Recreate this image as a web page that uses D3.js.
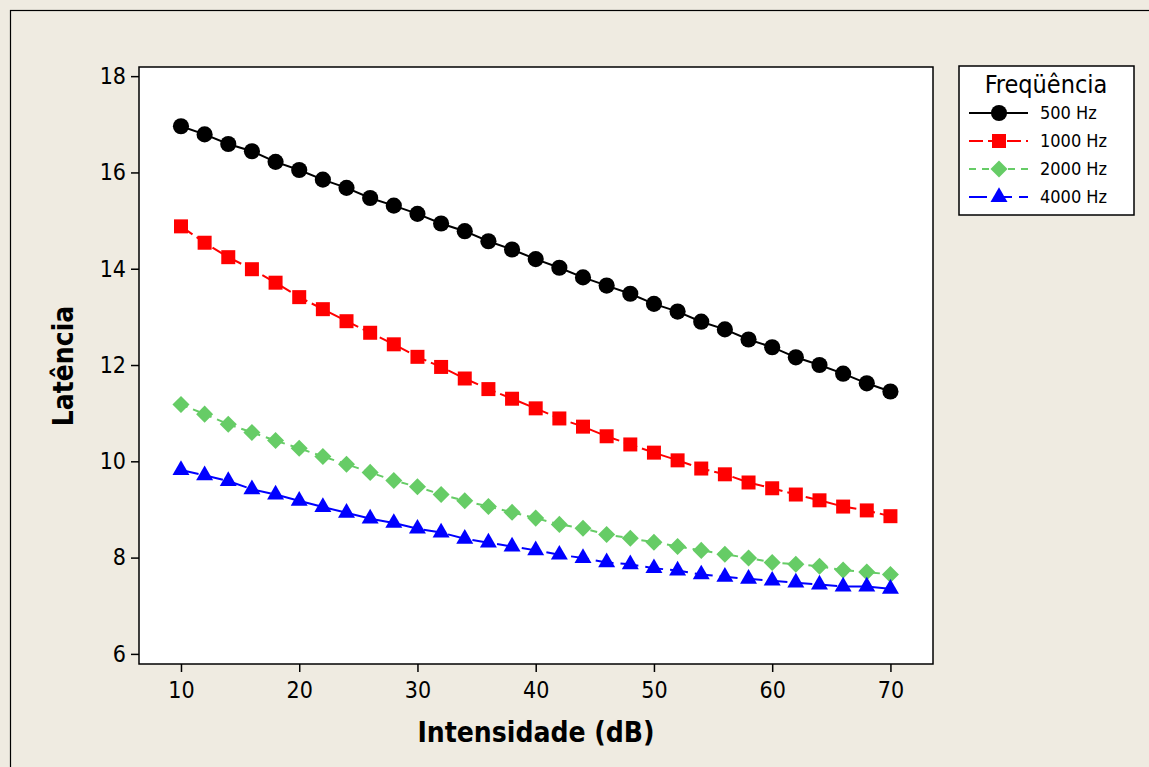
<!DOCTYPE html>
<html>
<head>
<meta charset="utf-8">
<script src="https://cdn.jsdelivr.net/npm/d3@7"></script>
<style>
  html, body { margin: 0; padding: 0; background: #EFEBE1; }
  svg { display: block; }
  text { font-family: "DejaVu Sans Condensed", "DejaVu Sans", sans-serif; }
</style>
</head>
<body>
<svg id="chart" width="1149" height="767"></svg>
<script>
// ---------- data ----------
const intensities = [10,12,14,16,18,20,22,24,26,28,30,32,34,36,38,40,42,44,46,48,50,52,54,56,58,60,62,64,66,68,70];
const lat500  = [16.96,16.79,16.59,16.44,16.22,16.05,15.85,15.68,15.47,15.31,15.14,14.94,14.78,14.57,14.40,14.20,14.02,13.82,13.65,13.48,13.27,13.11,12.90,12.74,12.53,12.37,12.16,12.00,11.82,11.62,11.45];
const lat1000 = [14.88,14.54,14.24,13.99,13.71,13.41,13.16,12.91,12.67,12.43,12.17,11.96,11.72,11.50,11.30,11.10,10.89,10.72,10.52,10.35,10.18,10.02,9.85,9.73,9.56,9.44,9.31,9.19,9.06,8.98,8.86];
const lat2000 = [11.18,10.98,10.77,10.60,10.43,10.27,10.10,9.94,9.77,9.60,9.47,9.31,9.18,9.06,8.94,8.82,8.69,8.61,8.48,8.40,8.32,8.23,8.15,8.07,7.99,7.90,7.86,7.82,7.74,7.70,7.65];
const lat4000 = [9.82,9.71,9.59,9.42,9.31,9.18,9.05,8.93,8.81,8.72,8.60,8.52,8.39,8.31,8.23,8.15,8.06,7.99,7.90,7.86,7.78,7.73,7.65,7.60,7.56,7.52,7.48,7.44,7.40,7.40,7.35];
const seriesNames = ["500 Hz","1000 Hz","2000 Hz","4000 Hz"];
const xTicks = [10,20,30,40,50,60,70];
const yTicks = [6,8,10,12,14,16,18];
const xTitle = "Intensidade (dB)";
const yTitle = "Latência";
const legendTitle = "Freqüência";

// ---------- styles ----------
const styles = [
  {color:"#000000", dash:null,    symbol:d3.symbolCircle,   size:205, rot:0},
  {color:"#FF0000", dash:"14,5",  symbol:d3.symbolSquare,   size:196, rot:0},
  {color:"#66CC66", dash:"7,6",   symbol:d3.symbolSquare,   size:145, rot:45},
  {color:"#0000FF", dash:"18,7",  symbol:d3.symbolTriangle, size:125, rot:0}
];
const seriesData = [lat500, lat1000, lat2000, lat4000];

const svg = d3.select("#chart");
// outer frame
svg.append("rect").attr("x",10.5).attr("y",10.5).attr("width",1160).attr("height",780)
  .attr("fill","#EFEBE1").attr("stroke","#000").attr("stroke-width",1.2);

const plot = {left:139, top:67, right:933, bottom:664};
const x = d3.scaleLinear().domain([6.45, 73.6]).range([plot.left, plot.right]);
const y = d3.scaleLinear().domain([5.79, 18.19]).range([plot.bottom, plot.top]);

svg.append("rect").attr("x",plot.left).attr("y",plot.top)
  .attr("width",plot.right-plot.left).attr("height",plot.bottom-plot.top)
  .attr("fill","#fff").attr("stroke","#000").attr("stroke-width",1.5);

const xAxis = svg.append("g").attr("transform",`translate(0,${plot.bottom})`)
  .call(d3.axisBottom(x).tickValues(xTicks).tickSize(8).tickPadding(10).tickFormat(d3.format("d")));
const yAxis = svg.append("g").attr("transform",`translate(${plot.left},0)`)
  .call(d3.axisLeft(y).tickValues(yTicks).tickSize(8).tickPadding(5).tickFormat(d3.format("d")));
[xAxis,yAxis].forEach(a=>{
  a.select(".domain").remove();
  a.selectAll("line").attr("stroke","#000").attr("stroke-width",1.5);
  a.selectAll("text").attr("fill","#000").style("font-size","23px")
   .style("font-family",'"DejaVu Sans Condensed","DejaVu Sans",sans-serif');
});

svg.append("text").attr("x",(plot.left+plot.right)/2).attr("y",742)
  .attr("text-anchor","middle").style("font-size","28px").style("font-weight","bold").text(xTitle);
svg.append("text").attr("transform",`translate(73,366) rotate(-90)`)
  .attr("text-anchor","middle").style("font-size","28px").style("font-weight","bold").text(yTitle);

// lines and markers
const line = d3.line().x((d,i)=>x(intensities[i])).y(d=>y(d));
seriesData.forEach((vals,si)=>{
  const st = styles[si];
  svg.append("path").datum(vals).attr("d",line).attr("fill","none")
    .attr("stroke",st.color).attr("stroke-width",2)
    .attr("stroke-dasharray",st.dash);
  svg.append("g").selectAll("path").data(vals).join("path")
    .attr("d",d3.symbol().type(st.symbol).size(st.size))
    .attr("transform",(d,i)=>`translate(${x(intensities[i])},${y(d)}) rotate(${st.rot})`)
    .attr("fill",st.color);
});

// legend
const lg = svg.append("g");
lg.append("rect").attr("x",959).attr("y",66).attr("width",175).attr("height",149)
  .attr("fill","#fff").attr("stroke","#000").attr("stroke-width",1.5);
lg.append("text").attr("x",1046).attr("y",93).attr("text-anchor","middle")
  .style("font-size","25px").text(legendTitle);
const rowY = d3.scaleLinear().domain([0,3]).range([113,197]);
seriesNames.forEach((name,si)=>{
  const st = styles[si];
  const yy = rowY(si);
  lg.append("line").attr("x1",969).attr("x2",1028).attr("y1",yy).attr("y2",yy)
    .attr("stroke",st.color).attr("stroke-width",2).attr("stroke-dasharray",st.dash);
  lg.append("path").attr("d",d3.symbol().type(st.symbol).size(st.size))
    .attr("transform",`translate(999,${yy}) rotate(${st.rot})`).attr("fill",st.color);
  lg.append("text").attr("x",1040).attr("y",yy+6).style("font-size","18px").text(name);
});
</script>
</body>
</html>
